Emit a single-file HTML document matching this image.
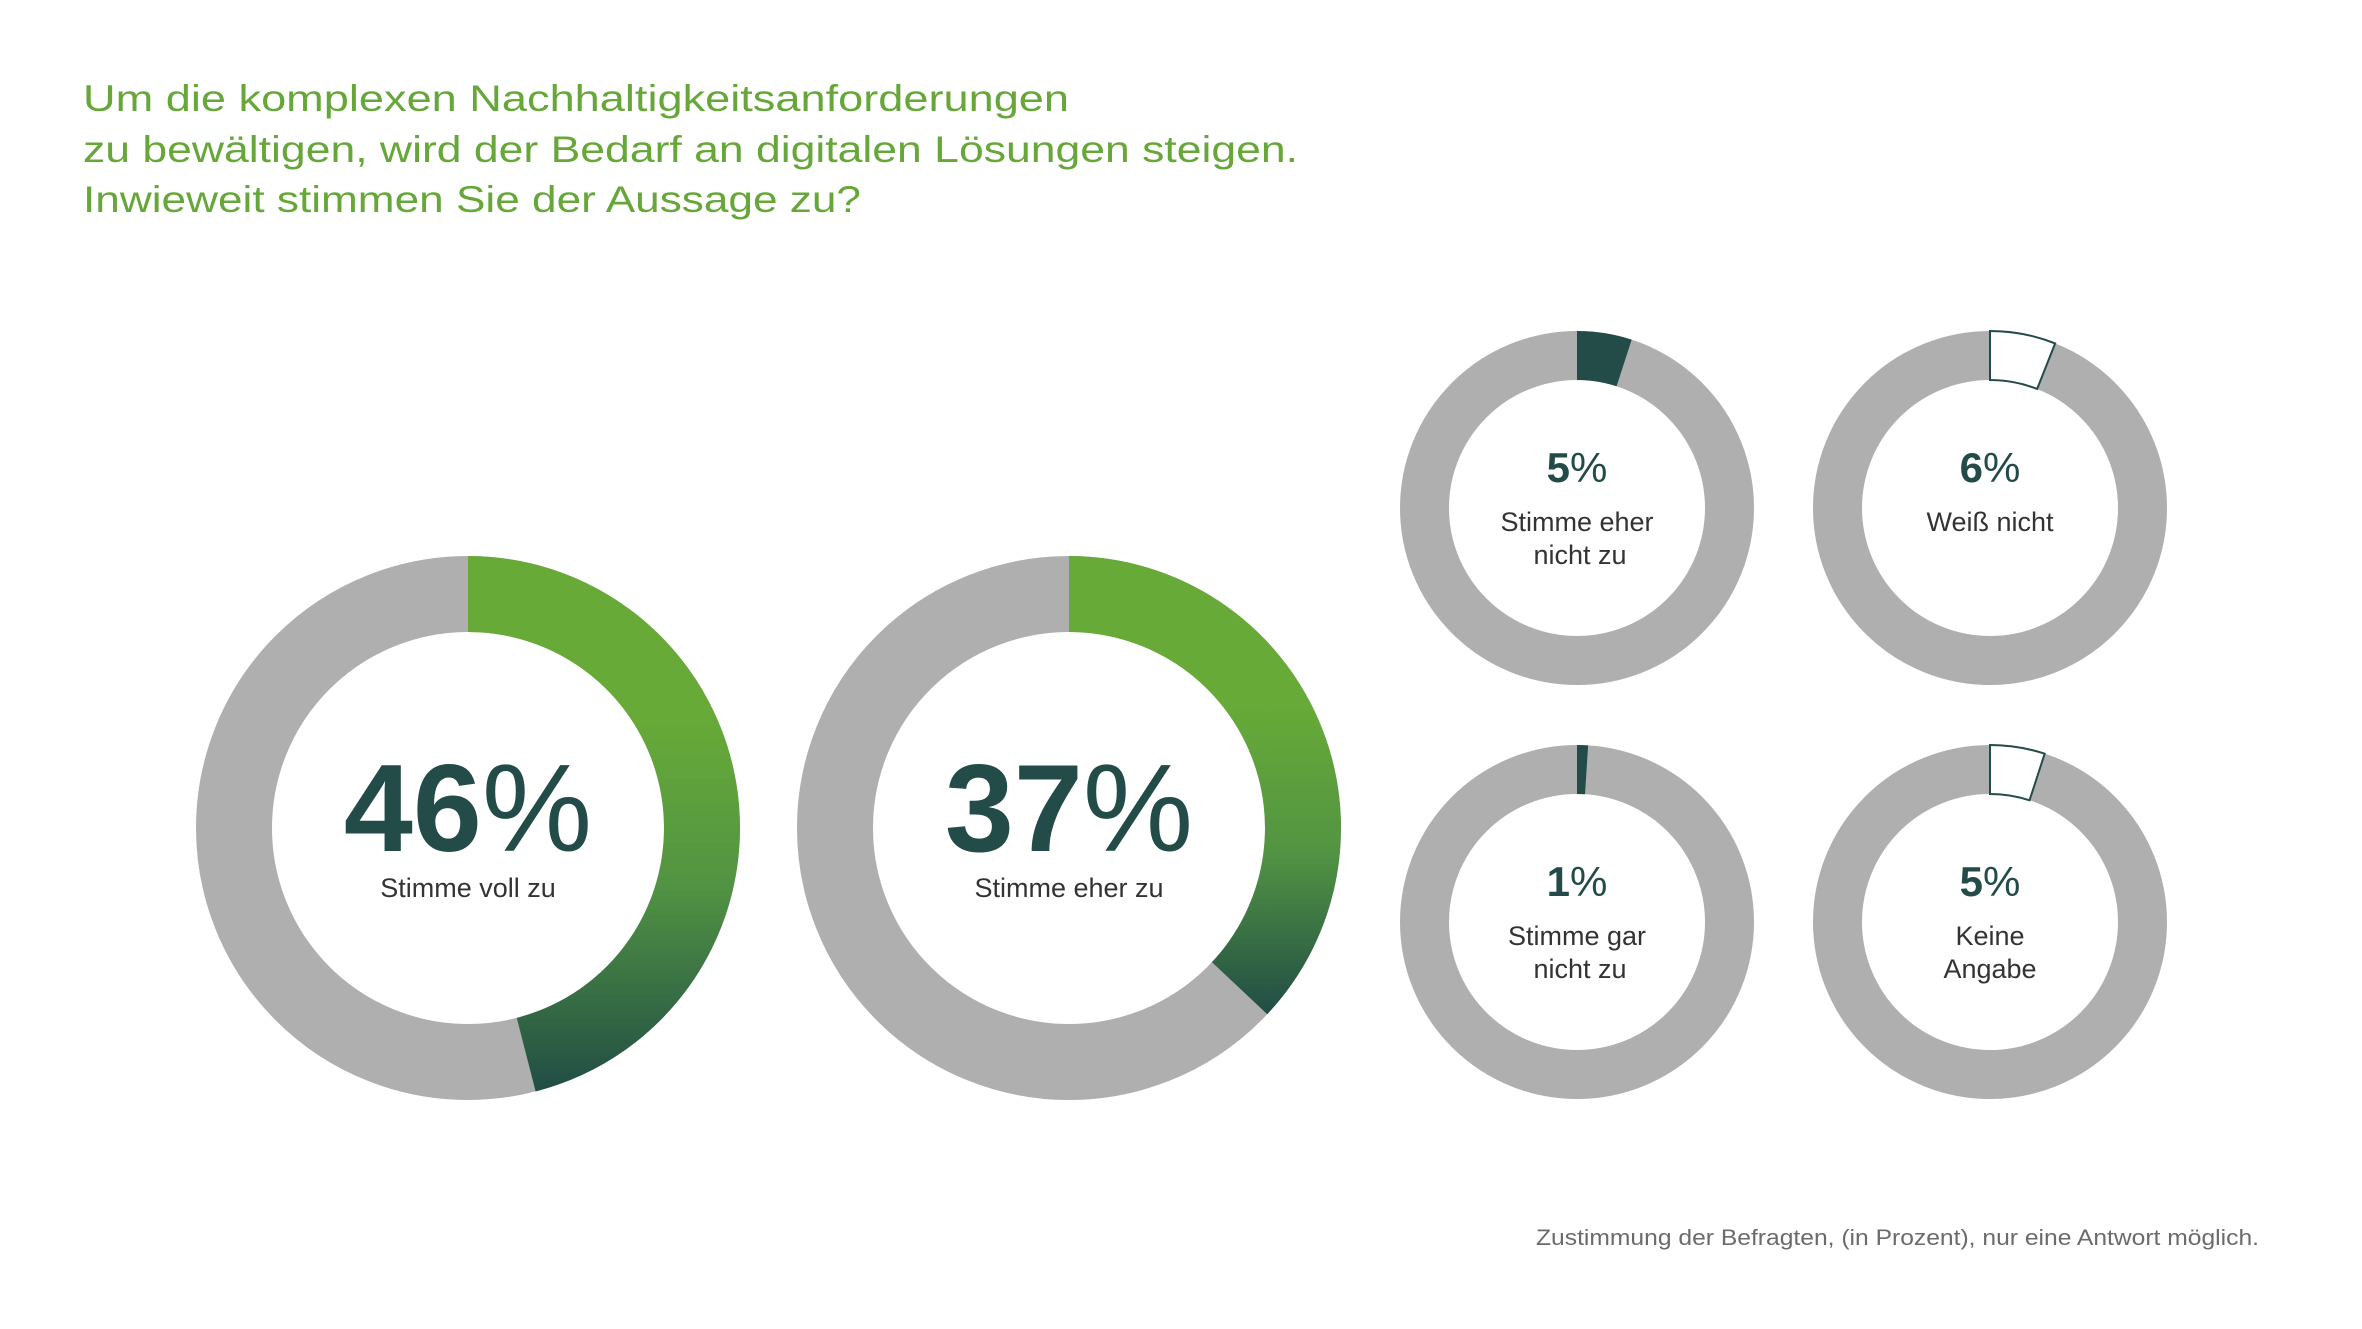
<!DOCTYPE html>
<html><head><meta charset="utf-8">
<style>
html,body{margin:0;padding:0;background:#fff;}
svg{display:block;}
</style></head>
<body>
<svg id="s" width="2362" height="1329" viewBox="0 0 2362 1329" xmlns="http://www.w3.org/2000/svg">
<defs>
<linearGradient id="g1" gradientUnits="userSpaceOnUse" x1="0" y1="556" x2="0" y2="1100">
<stop offset="0.3" stop-color="#67aa37"/><stop offset="0.6" stop-color="#529443"/><stop offset="1" stop-color="#1f4a45"/>
</linearGradient>
<linearGradient id="g2" gradientUnits="userSpaceOnUse" x1="0" y1="600" x2="0" y2="1020">
<stop offset="0.25" stop-color="#67aa37"/><stop offset="0.6" stop-color="#529443"/><stop offset="1" stop-color="#1f4a45"/>
</linearGradient>
</defs>
<g font-family="'Liberation Sans', sans-serif" fill="#67a73a" font-size="37">
<text x="83" y="111" textLength="986" lengthAdjust="spacingAndGlyphs">Um die komplexen Nachhaltigkeitsanforderungen</text>
<text x="83" y="162" textLength="1215" lengthAdjust="spacingAndGlyphs">zu bewältigen, wird der Bedarf an digitalen Lösungen steigen.</text>
<text x="83" y="212" textLength="778" lengthAdjust="spacingAndGlyphs">Inwieweit stimmen Sie der Aussage zu?</text>
</g>
<g id="rings"></g>
<g font-family="'Liberation Sans', sans-serif" text-anchor="middle">
<text x="468" y="851" font-size="124" font-weight="bold" fill="#234b48">46<tspan font-weight="normal">%</tspan></text>
<text x="468" y="897" font-size="27" fill="#333">Stimme voll zu</text>
<text x="1069" y="851" font-size="124" font-weight="bold" fill="#234b48">37<tspan font-weight="normal">%</tspan></text>
<text x="1069" y="897" font-size="27" fill="#333">Stimme eher zu</text>

<text x="1577" y="482" font-size="42" font-weight="bold" fill="#234b48">5<tspan font-weight="normal">%</tspan></text>
<text x="1577" y="531" font-size="27" fill="#333">Stimme eher</text>
<text x="1580" y="564" font-size="27" fill="#333">nicht zu</text>
<text x="1990" y="482" font-size="42" font-weight="bold" fill="#234b48">6<tspan font-weight="normal">%</tspan></text>
<text x="1990" y="531" font-size="27" fill="#333">Weiß nicht</text>

<text x="1577" y="896" font-size="42" font-weight="bold" fill="#234b48">1<tspan font-weight="normal">%</tspan></text>
<text x="1577" y="945" font-size="27" fill="#333">Stimme gar</text>
<text x="1580" y="978" font-size="27" fill="#333">nicht zu</text>
<text x="1990" y="896" font-size="42" font-weight="bold" fill="#234b48">5<tspan font-weight="normal">%</tspan></text>
<text x="1990" y="945" font-size="27" fill="#333">Keine</text>
<text x="1990" y="978" font-size="27" fill="#333">Angabe</text>
</g>
<text x="2259" y="1245" text-anchor="end" font-family="'Liberation Sans', sans-serif" font-size="22" fill="#6b6b6b" textLength="723" lengthAdjust="spacingAndGlyphs">Zustimmung der Befragten, (in Prozent), nur eine Antwort möglich.</text>
</svg>
<script>
(function(){
var NS="http://www.w3.org/2000/svg",g=document.getElementById("rings");
function pt(cx,cy,r,f){var a=f*2*Math.PI;return [cx+r*Math.sin(a),cy-r*Math.cos(a)];}
function sector(cx,cy,R,r,f0,f1){
 var L=(f1-f0)>0.5?1:0;
 var a=pt(cx,cy,R,f0),b=pt(cx,cy,R,f1),c=pt(cx,cy,r,f1),d=pt(cx,cy,r,f0);
 return "M"+a+" A"+R+","+R+" 0 "+L+" 1 "+b+" L"+c+" A"+r+","+r+" 0 "+L+" 0 "+d+" Z";
}
function ring(cx,cy,R,r,frac,fill,stroke){
 var c=document.createElementNS(NS,"circle");c.setAttribute("cx",cx);c.setAttribute("cy",cy);c.setAttribute("r",(R+r)/2);
 c.setAttribute("fill","none");c.setAttribute("stroke","#b0afb0");c.setAttribute("stroke-width",R-r);
 g.appendChild(c);
 var s=document.createElementNS(NS,"path");s.setAttribute("d",sector(cx,cy,R,r,0,frac));
 s.setAttribute("fill",fill);if(stroke){s.setAttribute("stroke",stroke);s.setAttribute("stroke-width","2");}
 g.appendChild(s);
}
ring(468,828,272,196,0.46,"url(#g1)");
ring(1069,828,272,196,0.37,"url(#g2)");
ring(1577,508,177,128,0.05,"#234b48");
ring(1990,508,177,128,0.06,"#ffffff","#234b48");
ring(1577,922,177,128,0.01,"#234b48");
ring(1990,922,177,128,0.05,"#ffffff","#234b48");
})();
</script>
</body></html>
